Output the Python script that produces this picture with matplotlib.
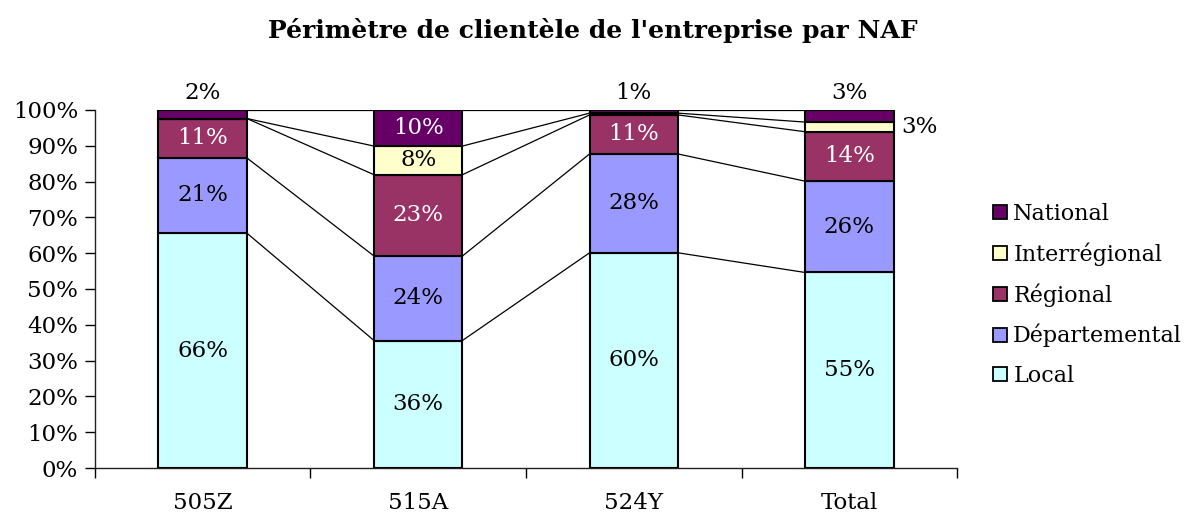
import matplotlib
matplotlib.use("Agg")
import matplotlib.pyplot as plt
from matplotlib.patches import Patch
import numpy as np

categories = ["505Z", "515A", "524Y", "Total"]
series = ["Local", "Départemental", "Régional", "Interrégional", "National"]
local = [65.6, 35.6, 60.1, 54.6]
departemental = [21.0, 23.6, 27.6, 25.5]
regional = [11.0, 22.7, 10.9, 13.8]
interregional = [0.0, 8.0, 0.5, 2.7]
national = [2.4, 10.1, 0.9, 3.4]
yticks = [0, 10, 20, 30, 40, 50, 60, 70, 80, 90, 100]

colors = ["#CCFFFF", "#9999FF", "#993366", "#FFFFCC", "#660066"]
text_colors = ["black", "black", "white", "black", "white"]

plt.rcParams['font.family'] = ['DejaVu Serif']
FS = 16.5

data = np.array([local, departemental, regional, interregional, national])
data = data / data.sum(axis=0) * 100
cum = np.cumsum(data, axis=0)
bottoms = cum - data

fig = plt.figure(figsize=(11.86, 5.16), dpi=100)
ax = fig.add_axes([0.080, 0.093, 0.727, 0.694])

x = np.arange(len(categories))
w = 0.41
for k in range(len(series)):
    ax.bar(x, data[k], w, bottom=bottoms[k], color=colors[k],
           edgecolor="black", linewidth=1.5, zorder=3)

# series lines
for k in range(len(series)):
    for i in range(len(categories) - 1):
        ax.plot([x[i] + w / 2, x[i + 1] - w / 2], [cum[k][i], cum[k][i + 1]],
                color="black", lw=0.9, zorder=2)

# labels
for k in range(len(series)):
    for i in range(len(categories)):
        v = data[k][i]
        if v < 0.75:
            continue
        lab = f"{v:.0f}%"
        if v >= 5:
            ax.text(x[i], bottoms[k][i] + v / 2, lab, ha="center", va="center",
                    fontsize=FS, color=text_colors[k], zorder=4)
        elif k == len(series) - 1:
            ax.text(x[i], 100 + 1.6, lab, ha="center", va="bottom",
                    fontsize=FS, color="black", zorder=4, clip_on=False)
        else:
            ax.text(x[i] + w / 2 + 0.035, bottoms[k][i] + v / 2, lab,
                    ha="left", va="center", fontsize=FS, color="black", zorder=4)

ax.set_xlim(-0.5, len(categories) - 0.5)
ax.set_ylim(0, 100)
ax.set_yticks(yticks)
ax.set_yticklabels([f"{t}%" for t in yticks], fontsize=FS)
ax.set_xticks(x)
ax.set_xticklabels(categories, fontsize=FS)
ax.set_xticks(np.arange(-0.5, len(categories), 1.0), minor=True)
ax.tick_params(axis="x", which="major", length=0, pad=17)
ax.tick_params(axis="x", which="minor", length=7, width=1)
ax.tick_params(axis="y", length=7, width=1, pad=5)
for s in ["top", "right"]:
    ax.spines[s].set_visible(False)
for s in ["left", "bottom"]:
    ax.spines[s].set_linewidth(1)
    ax.spines[s].set_color("#222222")

fig.text(0.5, 0.94, "Périmètre de clientèle de l'entreprise par NAF",
         ha="center", va="center", fontsize=18, fontweight="bold")

handles = [Patch(facecolor=colors[k], edgecolor="black", linewidth=1.3)
           for k in reversed(range(len(series)))]
labels = list(reversed(series))
fig.legend(handles, labels, loc="upper left", bbox_to_anchor=(0.830, 0.624),
           frameon=False, fontsize=16, handlelength=0.6, handleheight=0.6,
           handletextpad=0.3, labelspacing=0.78, borderaxespad=0)

fig.savefig("out.png", dpi=100)
